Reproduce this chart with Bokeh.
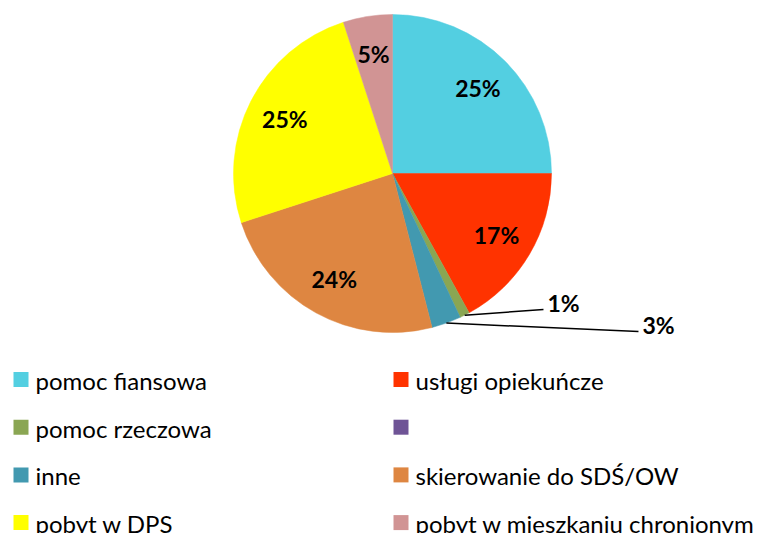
import math
from bokeh.plotting import figure
from bokeh.models import Range1d, ColumnDataSource
from bokeh.core.properties import value
from bokeh.embed import file_html
from bokeh.resources import INLINE

# ---- data ----
categories = ["pomoc fiansowa", "usługi opiekuńcze", "pomoc rzeczowa", "",
              "inne", "skierowanie do SDŚ/OW", "pobyt w DPS",
              "pobyt w mieszkaniu chronionym"]
values = [25, 17, 1, 0, 3, 24, 25, 5]
colors = ["#53CFE1", "#FF3300", "#8AA653", "#6F5496",
          "#4299B0", "#DE8641", "#FFFF00", "#D19494"]

# ---- layout (page pixel -> figure coords) ----
W, H = 766, 533
def X(px): return px
def Y(py): return H - py

p = figure(width=W, height=H, x_range=Range1d(0, W), y_range=Range1d(0, H),
           output_backend="svg", toolbar_location=None, min_border=0,
           x_axis_location=None, y_axis_location=None)
p.outline_line_color = None
p.grid.visible = False
p.background_fill_color = "white"
p.border_fill_color = "white"

FONT = "Lato"
cx, cy, R = X(392), Y(173), 159
total = float(sum(values))

starts, ends, mids = [], [], []
cum = 0.0
for v in values:
    a0 = math.pi / 2 - 2 * math.pi * cum / total
    cum += v
    a1 = math.pi / 2 - 2 * math.pi * cum / total
    starts.append(a0); ends.append(a1); mids.append((a0 + a1) / 2)

idx = [i for i, v in enumerate(values) if v > 0]
src = ColumnDataSource(dict(
    start=[starts[i] for i in idx], end=[ends[i] for i in idx],
    color=[colors[i] for i in idx]))
p.wedge(x=cx, y=cy, radius=R, start_angle="start", end_angle="end",
        direction="clock", fill_color="color", line_color="color",
        line_width=0.5, source=src)

# inside labels
in_x, in_y, in_t = [], [], []
out_items = []
for i, v in enumerate(values):
    if v == 0:
        continue
    pct = "%d%%" % round(100 * v / total)
    if v > 3:
        in_x.append(cx + 0.76 * R * math.cos(mids[i]))
        in_y.append(cy + 0.76 * R * math.sin(mids[i]))
        in_t.append(pct)
    else:
        out_items.append((i, pct))

p.text(x=in_x, y=in_y, text=in_t, text_font=value(FONT), text_font_style="bold",
       text_font_size="23px", text_align="center", text_baseline="middle",
       text_color="black")

# outside labels with leader lines (label anchor positions are layout)
leader_ends = {2: (X(543), Y(309)), 4: (X(638), Y(331))}
for i, pct in out_items:
    ex, ey = leader_ends[i]
    sx = cx + R * math.cos(mids[i])
    sy = cy + R * math.sin(mids[i])
    p.line([sx, ex], [sy, ey], line_color="black", line_width=1.5)
    p.text(x=[ex + 4], y=[ey + 7], text=[pct], text_font=value(FONT),
           text_font_style="bold", text_font_size="23px", text_align="left",
           text_baseline="middle", text_color="black")

# legend (manual, 2 columns)
lx_sq, lx_tx, col_w = X(20.5), X(35), 380
row0, row_step = Y(379), 47.7
sq_x, sq_y, tx_x, tx_y = [], [], [], []
for i in range(len(categories)):
    c, r = i % 2, i // 2
    sq_x.append(lx_sq + c * col_w); sq_y.append(row0 - r * row_step)
    tx_x.append(lx_tx + c * col_w); tx_y.append(row0 - r * row_step - 1)
p.rect(x=sq_x, y=sq_y, width=15, height=15, fill_color=colors, line_color=None)
p.text(x=tx_x, y=tx_y, text=categories, text_font=value(FONT),
       text_font_size="24px", text_align="left", text_baseline="middle",
       text_color="black")

open("out.html", "w").write(file_html(p, INLINE))
